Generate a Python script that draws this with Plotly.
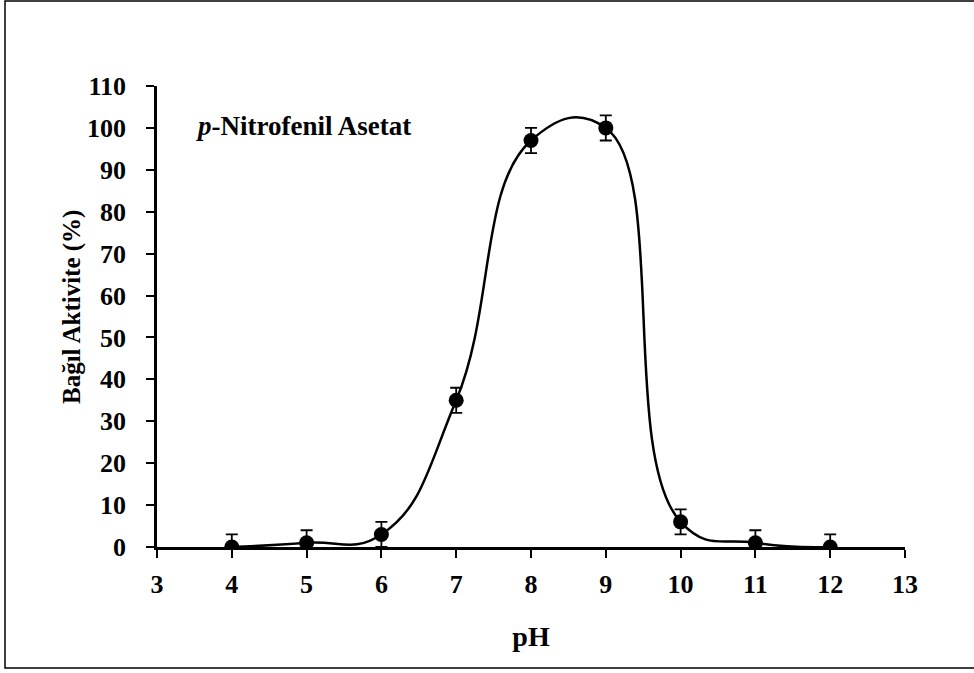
import plotly.graph_objects as go

# pH profile of relative activity
ph = [4, 5, 6, 7, 8, 9, 10, 11, 12]
activity = [0, 1, 3, 35, 97, 100, 6, 1, 0]
error = [3, 3, 3, 3, 3, 3, 3, 3, 3]

x_ticks = [3, 4, 5, 6, 7, 8, 9, 10, 11, 12, 13]
y_ticks = [0, 10, 20, 30, 40, 50, 60, 70, 80, 90, 100, 110]

W, H = 974, 673
L, R, T, B = 157, 69, 86, 126
pw, ph_px = W - L - R, H - T - B

def px_to_paper(x, y):
    return (x - L) / pw, (H - B - y) / ph_px

FONT = "Liberation Serif, Times New Roman, serif"

fig = go.Figure()
fig.add_trace(go.Scatter(
    x=ph, y=activity,
    mode="lines+markers",
    line=dict(color="black", width=2.5, shape="spline", smoothing=1.3),
    marker=dict(color="black", size=15, symbol="circle"),
    error_y=dict(type="data", array=error, visible=True,
                 color="black", thickness=1.8, width=6),
    cliponaxis=True,
    showlegend=False,
))

# substrate label inside the plot
fig.add_annotation(
    x=px_to_paper(194, 0)[0], y=px_to_paper(0, 126)[1],
    xref="paper", yref="paper", xanchor="left", yanchor="middle",
    text="<b><i>p</i>-Nitrofenil Asetat</b>", showarrow=False,
    font=dict(family=FONT, size=27, color="black"),
)

# y-axis title
fig.add_annotation(
    x=px_to_paper(72, 0)[0], y=px_to_paper(0, 307)[1],
    xref="paper", yref="paper", xanchor="center", yanchor="middle",
    text="<b>Bağıl Aktivite (%)</b>", showarrow=False, textangle=-90,
    font=dict(family=FONT, size=25, color="black"),
)

# outer frame
x0, y0 = px_to_paper(5, 668)
x1, y1 = px_to_paper(990, 1)
fig.add_shape(type="rect", xref="paper", yref="paper",
              x0=x0, y0=y0, x1=x1, y1=y1,
              line=dict(color="black", width=1.5), layer="below")

fig.update_layout(
    width=W, height=H,
    margin=dict(l=L, r=R, t=T, b=B),
    paper_bgcolor="white", plot_bgcolor="white",
    font=dict(family=FONT, color="black"),
    xaxis=dict(
        range=[3, 13], tickvals=x_ticks, ticktext=[f"<b>{v}</b>" for v in x_ticks],
        showgrid=False, zeroline=False,
        showline=True, linecolor="black", linewidth=2.5,
        ticks="outside", ticklen=8, tickwidth=2, tickcolor="black",
        tickfont=dict(family=FONT, size=26, color="black"),
        title=dict(text="<b>pH</b>", font=dict(family=FONT, size=28), standoff=29),
        ticklabelstandoff=4,
    ),
    yaxis=dict(
        range=[0, 110], tickvals=y_ticks, ticktext=[f"<b>{v}</b>" for v in y_ticks],
        showgrid=False, zeroline=False,
        showline=True, linecolor="black", linewidth=2.5,
        ticks="outside", ticklen=8, tickwidth=2, tickcolor="black",
        tickfont=dict(family=FONT, size=26, color="black"),
        ticklabelstandoff=15,
    ),
)

fig.write_html("out.html")
